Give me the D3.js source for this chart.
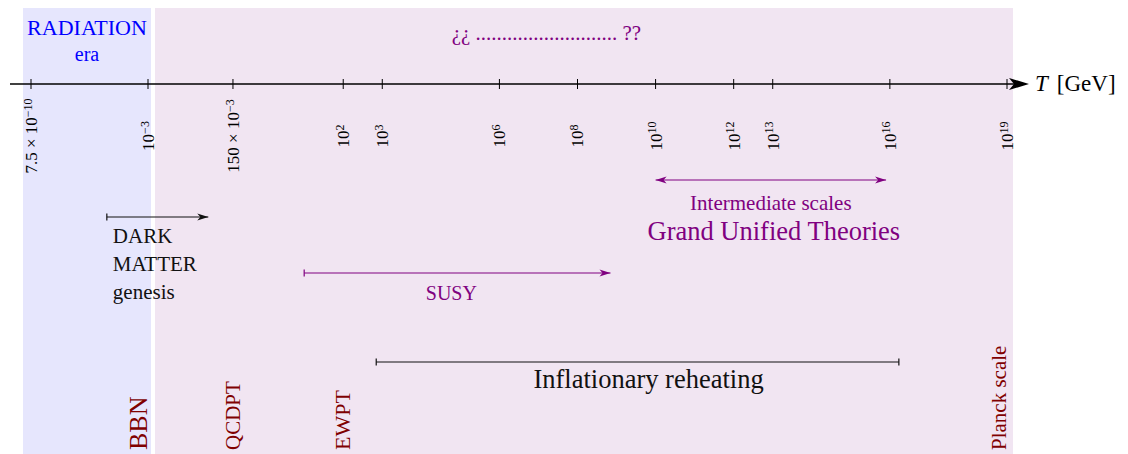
<!DOCTYPE html>
<meta charset="utf-8">
<style>
body { margin: 0; background: #fff; }
svg text { font-family: "Liberation Serif", "DejaVu Serif", serif; }
</style>
<body>
<script src="https://d3js.org/d3.v7.min.js"></script>
<script>
// axis ticks (GeV)
var tickT = [7.5e-10, 1e-3, 0.15, 1e2, 1e3, 1e6, 1e8, 1e10, 1e12, 1e13, 1e16, 1e19];
var tickMant = ["7.5 \u00d7 10", "10", "150 \u00d7 10", "10", "10", "10", "10", "10", "10", "10", "10", "10"];
var tickExp = ["\u221210", "\u22123", "\u22123", "2", "3", "6", "8", "10", "12", "13", "16", "19"];

// vertical event labels
var eventNames = ["BBN", "QCDPT", "EWPT", "Planck scale"];
var eventT = [1e-3, 0.15, 1e2, 1e19];

// spans [from, to]
var spanNames = ["darkmatter", "susy", "intermediate", "reheating"];
var spanFrom = [7e-6, 10, 1e10, 7e2];
var spanTo = [0.035, 7e8, 8e15, 1.7e16];

var width = 1128, height = 454;
var purple = "#800080", darkred = "#800000", blue = "#0000ff";

var svg = d3.select("body").append("svg")
    .attr("width", width)
    .attr("height", height);

// broken log axis: compressed below 1e-3
var x = d3.scaleLog()
    .domain([7.5e-10, 1e-3, 1e19])
    .range([31, 148, 1007]);

var axisY = 84;

// background bands
svg.append("rect")
    .attr("x", x(7.5e-10) - 8)
    .attr("y", 8)
    .attr("width", x(1e-3) + 3 - (x(7.5e-10) - 8))
    .attr("height", height - 8)
    .style("fill", "#e6e6fd");

svg.append("rect")
    .attr("x", x(1e-3) + 7)
    .attr("y", 8)
    .attr("width", x(1e19) + 6 - (x(1e-3) + 7))
    .attr("height", height - 8)
    .style("fill", "#f1e5f2");

// axis line + arrow
svg.append("line")
    .attr("x1", 10).attr("x2", 1020)
    .attr("y1", axisY).attr("y2", axisY)
    .style("stroke", "#000").style("stroke-width", 1.3);

svg.append("path")
    .attr("d", "M1029," + axisY + " L1009," + (axisY - 6) + " L1014," + axisY + " L1009," + (axisY + 6) + " Z")
    .style("fill", "#000");

var axisLabel = svg.append("text")
    .attr("x", 1035).attr("y", 91)
    .style("font-size", "23px");
axisLabel.append("tspan").style("font-style", "italic").text("T");
axisLabel.append("tspan").attr("dx", 9).text("[GeV]");

// ticks
svg.selectAll(".tick")
    .data(tickT)
  .enter().append("line")
    .attr("class", "tick")
    .attr("x1", function(d) { return x(d); })
    .attr("x2", function(d) { return x(d); })
    .attr("y1", axisY - 5).attr("y2", axisY + 5)
    .style("stroke", "#000").style("stroke-width", 1);

var tl = svg.selectAll(".ticklabel")
    .data(tickT)
  .enter().append("text")
    .attr("class", "ticklabel")
    .attr("transform", function(d) { return "translate(" + x(d) + ",136) rotate(-90)"; })
    .attr("text-anchor", "middle")
    .attr("dy", "0.35em")
    .style("font-size", "17px");
tl.append("tspan").text(function(d, i) { return tickMant[i]; });
tl.append("tspan")
    .attr("dy", "-0.45em")
    .style("font-size", "12px")
    .text(function(d, i) { return tickExp[i]; });

// top texts
svg.append("text")
    .attr("x", (x(7.5e-10) - 8 + x(1e-3) + 3) / 2).attr("y", 35)
    .attr("text-anchor", "middle")
    .style("font-size", "22px").style("fill", blue)
    .text("RADIATION");
svg.append("text")
    .attr("x", (x(7.5e-10) - 8 + x(1e-3) + 3) / 2).attr("y", 61)
    .attr("text-anchor", "middle")
    .style("font-size", "20px").style("fill", blue)
    .text("era");

svg.append("text")
    .attr("x", x(1.6e7)).attr("y", 40)
    .attr("text-anchor", "middle")
    .style("font-size", "21px").style("fill", purple)
    .text("\u00bf\u00bf  ...........................  ??");

// arrow/bar helpers
function arrowHead(xTip, y, dir, color) {
  svg.append("path")
      .attr("d", "M" + xTip + "," + y + " L" + (xTip - dir * 11) + "," + (y - 3.5) +
        " L" + (xTip - dir * 8) + "," + y + " L" + (xTip - dir * 11) + "," + (y + 3.5) + " Z")
      .style("fill", color);
}
function bar(xp, y, color) {
  svg.append("line")
      .attr("x1", xp).attr("x2", xp)
      .attr("y1", y - 3.5).attr("y2", y + 3.5)
      .style("stroke", color).style("stroke-width", 1.2);
}
function span(i, y, color, startKind, endKind) {
  var a = x(spanFrom[i]), b = x(spanTo[i]);
  svg.append("line")
      .attr("x1", a).attr("x2", b)
      .attr("y1", y).attr("y2", y)
      .style("stroke", color).style("stroke-width", 1.2);
  if (startKind == "bar") bar(a, y, color); else arrowHead(a, y, -1, color);
  if (endKind == "bar") bar(b, y, color); else arrowHead(b, y, 1, color);
  return [a, b];
}

// dark matter
var dm = span(0, 217, "#111", "bar", "arrow");
var dmText = ["DARK", "MATTER", "genesis"];
svg.selectAll(".dm")
    .data(dmText)
  .enter().append("text")
    .attr("x", dm[0] + 6)
    .attr("y", function(d, i) { return 243 + i * 28; })
    .style("font-size", "21px").style("fill", "#111")
    .text(function(d) { return d; });

// SUSY
var su = span(1, 273, purple, "bar", "arrow");
svg.append("text")
    .attr("x", (su[0] + su[1]) / 2 - 6).attr("y", 300)
    .attr("text-anchor", "middle")
    .style("font-size", "20px").style("fill", purple)
    .text("SUSY");

// intermediate scales / GUT
var im = span(2, 180, purple, "arrow", "arrow");
svg.append("text")
    .attr("x", (im[0] + im[1]) / 2).attr("y", 210)
    .attr("text-anchor", "middle")
    .style("font-size", "21px").style("fill", purple)
    .text("Intermediate scales");
svg.append("text")
    .attr("x", (im[0] + im[1]) / 2 + 3).attr("y", 240)
    .attr("text-anchor", "middle")
    .style("font-size", "26.5px").style("fill", purple)
    .text("Grand Unified Theories");

// inflationary reheating
var rh = span(3, 362, "#111", "bar", "bar");
svg.append("text")
    .attr("x", (rh[0] + rh[1]) / 2 + 11).attr("y", 388)
    .attr("text-anchor", "middle")
    .style("font-size", "26.5px").style("fill", "#111")
    .text("Inflationary reheating");

// vertical event labels
var evSize = [26, 21, 22, 21];
svg.selectAll(".event")
    .data(eventT)
  .enter().append("text")
    .attr("class", "event")
    .attr("transform", function(d, i) {
      var edge = (i == 0 || i == eventT.length - 1);
      var xp = edge ? x(d) - 1 : x(d) + 7;
      return "translate(" + xp + ",450) rotate(-90)";
    })
    .style("font-size", function(d, i) { return evSize[i] + "px"; })
    .style("fill", darkred)
    .text(function(d, i) { return eventNames[i]; });
</script>
</body>
